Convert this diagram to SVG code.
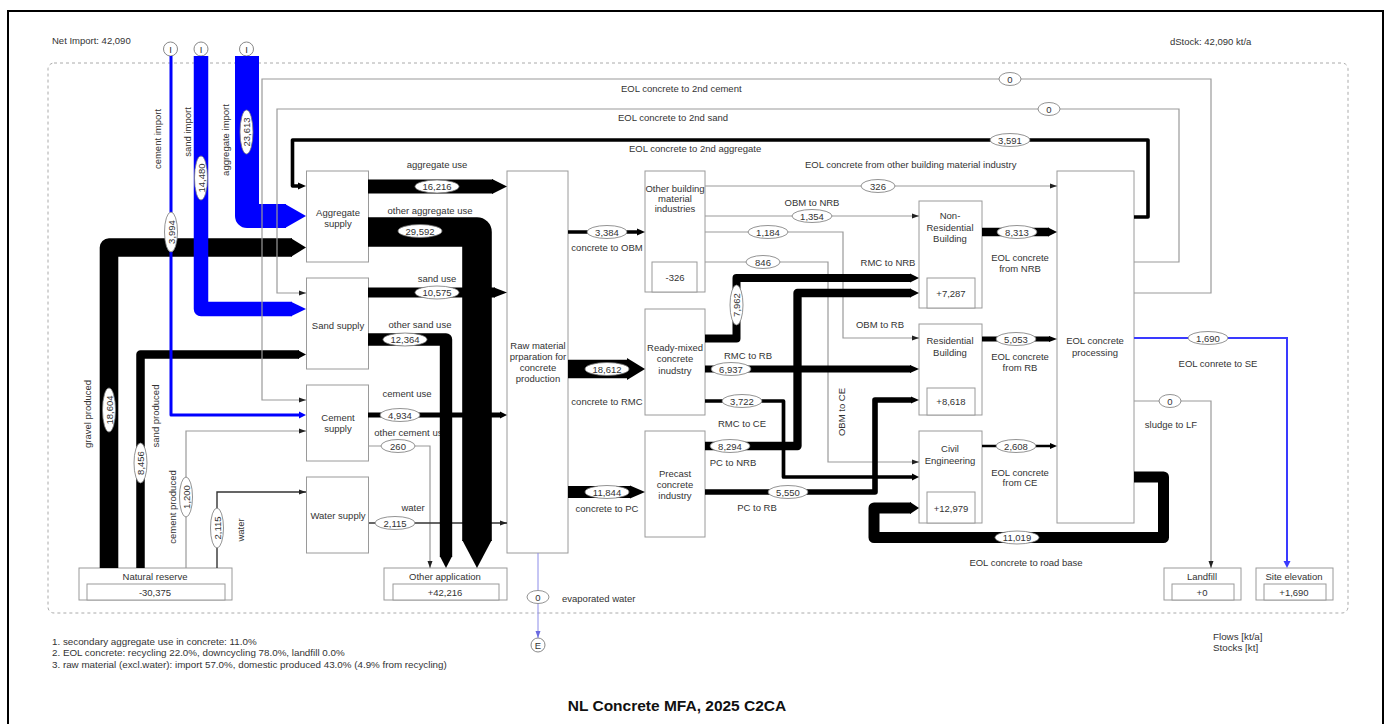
<svg xmlns="http://www.w3.org/2000/svg" width="1385" height="724" viewBox="0 0 1385 724">
<style>
.t{font-family:"Liberation Sans",Arial,sans-serif;font-size:9.5px;fill:#333;text-anchor:middle;dominant-baseline:central}
.s{text-anchor:start}
.fn{font-family:"Liberation Sans",Arial,sans-serif;font-size:9.8px;fill:#333;dominant-baseline:central}
.title{font-family:"Liberation Sans",Arial,sans-serif;font-size:15.5px;font-weight:bold;fill:#111;text-anchor:middle;dominant-baseline:central}
.box{fill:#fff;stroke:#9a9a9a;stroke-width:1}
.band{fill:none;stroke:#000;stroke-linejoin:round}
.blue{fill:none;stroke:#0000ff;stroke-linejoin:round}
.thin{fill:none;stroke:#9a9a9a;stroke-width:1.2;marker-end:url(#ah)}
.dark{fill:none;stroke:#333;stroke-width:1.4;marker-end:url(#ah)}
.ov ellipse{fill:#fff;stroke:#777;stroke-width:0.8}
.hb{fill:#000}
.hu{fill:#0000ff}
</style>
<defs>
<marker id="ah" markerWidth="7" markerHeight="6" refX="7" refY="3" orient="auto" markerUnits="userSpaceOnUse"><path d="M0,0.5 L7,3 L0,5.5 z" fill="#222"/></marker>
<marker id="ahl" markerWidth="7" markerHeight="6" refX="7" refY="3" orient="auto" markerUnits="userSpaceOnUse"><path d="M0,0.5 L7,3 L0,5.5 z" fill="#6a6ae0"/></marker>
</defs>
<rect x="0" y="0" width="1385" height="724" fill="#fff"/>
<rect x="8" y="11" width="1375" height="730" fill="none" stroke="#000" stroke-width="2"/>
<rect x="48" y="63" width="1300" height="550" rx="6" fill="none" stroke="#aaa" stroke-width="1" stroke-dasharray="3,3"/>
<text class="t s" x="52" y="40">Net Import: 42,090</text>
<text class="t s" x="1170" y="41">dStock: 42,090 kt/a</text>

<g id="nodes">
<g id="import-cement"><circle cx="170.5" cy="49" r="7" fill="#fff" stroke="#888"/><text class="t" x="170.5" y="49">I</text></g>
<g id="import-sand"><circle cx="201" cy="49" r="7" fill="#fff" stroke="#888"/><text class="t" x="201" y="49">I</text></g>
<g id="import-aggregate"><circle cx="246.5" cy="49" r="7" fill="#fff" stroke="#888"/><text class="t" x="246.5" y="49">I</text></g>
<g id="export-evap"><circle cx="538" cy="645" r="7" fill="#fff" stroke="#888"/><text class="t" x="538" y="645">E</text></g>
<g id="aggregate-supply"><rect class="box" x="306.5" y="171" width="62" height="91"/><text class="t" x="338" y="212">Aggregate</text><text class="t" x="338" y="223">supply</text></g>
<g id="sand-supply"><rect class="box" x="306.5" y="278" width="62" height="91"/><text class="t" x="338" y="325">Sand supply</text></g>
<g id="cement-supply"><rect class="box" x="306.5" y="385" width="62" height="76"/><text class="t" x="338" y="417">Cement</text><text class="t" x="338" y="428">supply</text></g>
<g id="water-supply"><rect class="box" x="306.5" y="477" width="62" height="76"/><text class="t" x="338" y="515">Water supply</text></g>
<g id="natural-reserve"><rect class="box" x="79" y="568" width="153" height="32"/><rect class="box" x="87" y="584" width="138" height="16"/><text class="t" x="155" y="576">Natural reserve</text><text class="t" x="155" y="592">-30,375</text></g>
<g id="other-application"><rect class="box" x="384" y="568" width="123" height="32"/><rect class="box" x="393" y="584" width="106" height="16"/><text class="t" x="445" y="576">Other application</text><text class="t" x="445" y="592">+42,216</text></g>
<g id="raw-material"><rect class="box" x="507" y="171" width="61" height="382"/><text class="t" x="538" y="345">Raw material</text><text class="t" x="538" y="356">prparation for</text><text class="t" x="538" y="367">concrete</text><text class="t" x="538" y="378">production</text></g>
<g id="other-building-material"><rect class="box" x="645" y="171" width="60" height="121"/><rect class="box" x="652" y="262" width="45" height="30"/><text class="t" x="675" y="188">Other building</text><text class="t" x="675" y="198">material</text><text class="t" x="675" y="208">industries</text><text class="t" x="675" y="277">-326</text></g>
<g id="ready-mixed"><rect class="box" x="645" y="309" width="60" height="106"/><text class="t" x="675" y="347">Ready-mixed</text><text class="t" x="675" y="358">concrete</text><text class="t" x="675" y="370">inudstry</text></g>
<g id="precast"><rect class="box" x="645" y="431" width="60" height="106"/><text class="t" x="675" y="473">Precast</text><text class="t" x="675" y="484">concrete</text><text class="t" x="675" y="495">industry</text></g>
<g id="non-residential"><rect class="box" x="919" y="201" width="63" height="107"/><rect class="box" x="927" y="278" width="48" height="30"/><text class="t" x="950" y="215">Non-</text><text class="t" x="950" y="227">Residential</text><text class="t" x="950" y="238">Building</text><text class="t" x="951" y="293">+7,287</text></g>
<g id="residential"><rect class="box" x="919" y="324" width="63" height="91"/><rect class="box" x="927" y="388" width="48" height="27"/><text class="t" x="950" y="340">Residential</text><text class="t" x="950" y="352">Building</text><text class="t" x="951" y="401">+8,618</text></g>
<g id="civil-engineering"><rect class="box" x="919" y="431" width="63" height="92"/><rect class="box" x="927" y="492" width="48" height="31"/><text class="t" x="950" y="448">Civil</text><text class="t" x="950" y="460">Engineering</text><text class="t" x="951" y="508">+12,979</text></g>
<g id="eol-processing"><rect class="box" x="1057" y="171" width="77" height="352"/><text class="t" x="1095" y="340">EOL concrete</text><text class="t" x="1095" y="352">processing</text></g>
<g id="landfill"><rect class="box" x="1164" y="568" width="77" height="32"/><rect class="box" x="1172" y="584" width="62" height="16"/><text class="t" x="1202" y="576">Landfill</text><text class="t" x="1202" y="592">+0</text></g>
<g id="site-elevation"><rect class="box" x="1256" y="568" width="77" height="32"/><rect class="box" x="1264" y="584" width="62" height="16"/><text class="t" x="1294" y="576">Site elevation</text><text class="t" x="1294" y="592">+1,690</text></g>
</g>

<g id="flow-names">
<text class="t" transform="translate(157,139) rotate(-90)">cement import</text>
<text class="t" transform="translate(187,132) rotate(-90)">sand import</text>
<text class="t" transform="translate(225,140) rotate(-90)">aggregate import</text>
<text class="t" transform="translate(87,414) rotate(-90)">gravel produced</text>
<text class="t" transform="translate(155,416) rotate(-90)">sand produced</text>
<text class="t" transform="translate(172,507) rotate(-90)">cement produced</text>
<text class="t" transform="translate(240,530) rotate(-90)">water</text>
<text class="t" transform="translate(841,412) rotate(-90)">OBM to CE</text>
<text class="t s" x="621" y="88">EOL concrete to 2nd cement</text>
<text class="t s" x="618" y="117">EOL concrete to 2nd sand</text>
<text class="t s" x="629" y="148">EOL concrete to 2nd aggregate</text>
<text class="t s" x="805" y="164">EOL concrete from other building material industry</text>
<text class="t" x="437" y="164">aggregate use</text>
<text class="t" x="430" y="210">other aggregate use</text>
<text class="t" x="437" y="278">sand use</text>
<text class="t" x="420" y="324">other sand use</text>
<text class="t" x="407" y="393">cement use</text>
<text class="t" x="411" y="432">other cement use</text>
<text class="t" x="413" y="507">water</text>
<text class="t" x="607" y="247">concrete to OBM</text>
<text class="t" x="607" y="401">concrete to RMC</text>
<text class="t" x="607" y="508">concrete to PC</text>
<text class="t" x="812" y="202">OBM to NRB</text>
<text class="t" x="888" y="262">RMC to NRB</text>
<text class="t" x="880" y="324">OBM to RB</text>
<text class="t" x="748" y="355">RMC to RB</text>
<text class="t" x="742" y="423">RMC to CE</text>
<text class="t" x="733" y="462">PC to NRB</text>
<text class="t" x="757" y="507">PC to RB</text>
<text class="t" x="1020" y="257">EOL concrete</text><text class="t" x="1020" y="268">from NRB</text>
<text class="t" x="1020" y="356">EOL concrete</text><text class="t" x="1020" y="367">from RB</text>
<text class="t" x="1020" y="472">EOL concrete</text><text class="t" x="1020" y="482">from CE</text>
<text class="t" x="1026" y="562">EOL concrete to road base</text>
<text class="t" x="1218" y="363">EOL conrete to SE</text>
<text class="t" x="1171" y="424">sludge to LF</text>
<text class="t s" x="562" y="598">evaporated water</text>
</g>

<g id="connectors">
<path class="thin" d="M705,216 H919"/>
<path class="thin" d="M705,232 H843 V338 H919"/>
<path class="thin" d="M705,262 H828 V462 H919"/>
<path class="thin" d="M705,186 H1057"/>
<path class="thin" d="M1134,401 H1211 V568"/>
<path class="thin" d="M369,446 H430 V568"/>
<path class="thin" d="M186,568 V431 H306"/>
<path class="dark" d="M217,568 V492 H306"/>
<path class="dark" d="M369,523 H507"/>
<path fill="none" stroke="#8c8ce8" stroke-width="1" marker-end="url(#ahl)" d="M538,553 V638"/>

<path class="band" stroke-width="18.6" d="M109,568 V247.5 H292"/><polygon class="hb" points="291,238.2 306,247.5 291,256.8"/>
<path class="band" stroke-width="8.5" d="M140.5,568 V354.5 H299"/><polygon class="hb" points="298,350.2 306,354.5 298,358.8"/>
<path class="band" stroke-width="14" d="M368,186.5 H493"/><polygon class="hb" points="492,179 507,186.5 492,194"/>
<path class="band" stroke-width="29.6" d="M368,232 H477 V541"/><polygon class="hb" points="462.2,540 477,568 491.8,540"/>
<path class="band" stroke-width="10" d="M368,292.5 H495"/><polygon class="hb" points="494,287.5 507,292.5 494,297.5"/>
<path class="band" stroke-width="12.4" d="M368,339.5 H446 V557"/><polygon class="hb" points="439.8,556 446,568 452.2,556"/>
<path class="band" stroke-width="4.9" d="M368,415 H501"/><polygon class="hb" points="500,411.5 507,415 500,418.5"/>
<path class="band" stroke-width="3.4" d="M568,232 H638"/><polygon class="hb" points="637,228.5 645,232 637,235.5"/>
<path class="band" stroke-width="18.6" d="M568,369 H628"/><polygon class="hb" points="627,358 645,369 627,380"/>
<path class="band" stroke-width="11.8" d="M568,492 H631"/><polygon class="hb" points="630,485.5 645,492 630,498.5"/>
<path class="band" stroke-width="8" d="M705,338.5 H736.5 V278 H911"/><polygon class="hb" points="910,273.5 919,278 910,282.5"/>
<path class="band" stroke-width="8.3" d="M705,446 H797.5 V293 H911"/><polygon class="hb" points="910,288.5 919,293 910,297.5"/>
<path class="band" stroke-width="7" d="M705,369 H911"/><polygon class="hb" points="910,365 919,369 910,373"/>
<path class="band" stroke-width="3.7" d="M705,401 H783.5 V477 H913"/><polygon class="hb" points="912,473.5 919,477 912,480.5"/>
<path class="band" stroke-width="5.6" d="M705,492 H875 V400 H912"/><polygon class="hb" points="911,396.5 919,400 911,403.5"/>
<path class="band" stroke-width="8.3" d="M982,232 H1049"/><polygon class="hb" points="1048,227.5 1057,232 1048,236.5"/>
<path class="band" stroke-width="5" d="M982,339 H1050"/><polygon class="hb" points="1049,336 1057,339 1049,342"/>
<path class="band" stroke-width="2.6" d="M982,446 H1051"/><polygon class="hb" points="1050,443 1057,446 1050,449"/>
<path class="band" stroke-width="11" d="M1134,477 H1163.5 V537.5 H874 V508 H911"/><polygon class="hb" points="910,502 919,508 910,514"/>
<path class="band" stroke-width="3.6" d="M1134,217 H1148 V140 H292.5 V186 H299"/><polygon class="hb" points="298,182.5 306,186 298,189.5"/>

<path class="blue" stroke-width="24" d="M247,56 V216 H286"/><polygon class="hu" points="285,204 306,216 285,228"/>
<path class="blue" stroke-width="14.5" d="M201,56 V309 H292"/><polygon class="hu" points="291,301.75 306,309 291,316.25"/>
<path class="blue" stroke-width="3" d="M171,56 V415 H300"/><polygon class="hu" points="299,411.5 306,415 299,418.5"/>
<path fill="none" stroke="#3a3aff" stroke-width="2" d="M1134,338 H1287 V562"/><polygon fill="#3a3aff" points="1283.5,561 1287,568 1290.5,561"/>

<path class="thin" d="M1134,293 H1211 V79 H262 V400 H306"/>
<path class="thin" d="M1134,262 H1179 V109 H277 V293 H306"/>
</g>

<g id="flow-values">
<g class="ov" transform="translate(171,232) rotate(-90)"><ellipse rx="20" ry="6.5"/><text class="t">3,994</text></g>
<g class="ov" transform="translate(201,178) rotate(-90)"><ellipse rx="22" ry="6.5"/><text class="t">14,480</text></g>
<g class="ov" transform="translate(246.5,132) rotate(-90)"><ellipse rx="22" ry="6.5"/><text class="t">23,613</text></g>
<g class="ov" transform="translate(109,410) rotate(-90)"><ellipse rx="22" ry="6.5"/><text class="t">18,604</text></g>
<g class="ov" transform="translate(140.5,463) rotate(-90)"><ellipse rx="20" ry="6.5"/><text class="t">8,456</text></g>
<g class="ov" transform="translate(186,497) rotate(-90)"><ellipse rx="20" ry="6.5"/><text class="t">1,200</text></g>
<g class="ov" transform="translate(217,528) rotate(-90)"><ellipse rx="20" ry="6.5"/><text class="t">2,115</text></g>
<g class="ov" transform="translate(736.5,305) rotate(-90)"><ellipse rx="20" ry="6.5"/><text class="t">7,962</text></g>
<g class="ov" transform="translate(1010,79)"><ellipse rx="11" ry="6.5"/><text class="t">0</text></g>
<g class="ov" transform="translate(1049,109)"><ellipse rx="11" ry="6.5"/><text class="t">0</text></g>
<g class="ov" transform="translate(1010,140)"><ellipse rx="20" ry="6.5"/><text class="t">3,591</text></g>
<g class="ov" transform="translate(437,186.5)"><ellipse rx="22" ry="6.5"/><text class="t">16,216</text></g>
<g class="ov" transform="translate(420,231)"><ellipse rx="22" ry="6.5"/><text class="t">29,592</text></g>
<g class="ov" transform="translate(437,292.5)"><ellipse rx="22" ry="6.5"/><text class="t">10,575</text></g>
<g class="ov" transform="translate(405,339.5)"><ellipse rx="22" ry="6.5"/><text class="t">12,364</text></g>
<g class="ov" transform="translate(400,415)"><ellipse rx="20" ry="6.5"/><text class="t">4,934</text></g>
<g class="ov" transform="translate(398,446)"><ellipse rx="17" ry="6.5"/><text class="t">260</text></g>
<g class="ov" transform="translate(395,523)"><ellipse rx="20" ry="6.5"/><text class="t">2,115</text></g>
<g class="ov" transform="translate(607,232)"><ellipse rx="20" ry="6.5"/><text class="t">3,384</text></g>
<g class="ov" transform="translate(607,369)"><ellipse rx="22" ry="6.5"/><text class="t">18,612</text></g>
<g class="ov" transform="translate(607,492)"><ellipse rx="22" ry="6.5"/><text class="t">11,844</text></g>
<g class="ov" transform="translate(878,186)"><ellipse rx="17" ry="6.5"/><text class="t">326</text></g>
<g class="ov" transform="translate(812,216)"><ellipse rx="20" ry="6.5"/><text class="t">1,354</text></g>
<g class="ov" transform="translate(768,232)"><ellipse rx="20" ry="6.5"/><text class="t">1,184</text></g>
<g class="ov" transform="translate(763,262)"><ellipse rx="17" ry="6.5"/><text class="t">846</text></g>
<g class="ov" transform="translate(731,369)"><ellipse rx="20" ry="6.5"/><text class="t">6,937</text></g>
<g class="ov" transform="translate(742,401)"><ellipse rx="20" ry="6.5"/><text class="t">3,722</text></g>
<g class="ov" transform="translate(730,446)"><ellipse rx="20" ry="6.5"/><text class="t">8,294</text></g>
<g class="ov" transform="translate(788,492)"><ellipse rx="20" ry="6.5"/><text class="t">5,550</text></g>
<g class="ov" transform="translate(1017,232)"><ellipse rx="20" ry="6.5"/><text class="t">8,313</text></g>
<g class="ov" transform="translate(1016,339)"><ellipse rx="20" ry="6.5"/><text class="t">5,053</text></g>
<g class="ov" transform="translate(1016,446)"><ellipse rx="20" ry="6.5"/><text class="t">2,608</text></g>
<g class="ov" transform="translate(1017,537.5)"><ellipse rx="22" ry="6.5"/><text class="t">11,019</text></g>
<g class="ov" transform="translate(1208,338)"><ellipse rx="20" ry="6.5"/><text class="t">1,690</text></g>
<g class="ov" transform="translate(1170,401)"><ellipse rx="11" ry="6.5"/><text class="t">0</text></g>
<g class="ov" transform="translate(538,597)"><ellipse rx="11" ry="6.5"/><text class="t">0</text></g>
</g>

<text class="fn" x="52" y="641">1. secondary aggregate use in concrete: 11.0%</text>
<text class="fn" x="52" y="652">2. EOL concrete: recycling 22.0%, downcycling 78.0%, landfill 0.0%</text>
<text class="fn" x="52" y="664">3. raw material (excl.water): import 57.0%, domestic produced 43.0% (4.9% from recycling)</text>
<text class="fn" x="1213" y="636">Flows  [kt/a]</text>
<text class="fn" x="1213" y="647">Stocks [kt]</text>
<text class="title" x="677" y="705">NL Concrete MFA, 2025 C2CA</text>
</svg>
